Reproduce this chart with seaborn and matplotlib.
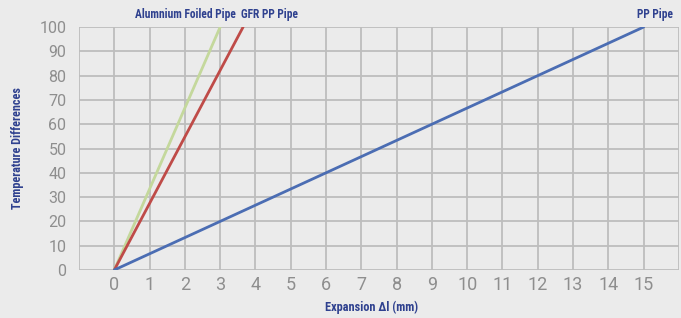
import matplotlib
matplotlib.use("Agg")
import matplotlib.pyplot as plt
import seaborn as sns
import pandas as pd

# expansion (mm) at temperature difference 0 and 100
pipes = ["Alumnium Foiled Pipe", "GFR PP Pipe", "PP Pipe"]
expansion_end = [3.0, 3.65, 15.0]
temp_diff = [0, 100]
colors = ["#C4D89C", "#BF4B48", "#4B6DB3"]
x_ticks = list(range(0, 16))
y_ticks = list(range(0, 101, 10))

rows = []
for name, end in zip(pipes, expansion_end):
    rows.append({"pipe": name, "dl": 0, "dT": temp_diff[0]})
    rows.append({"pipe": name, "dl": end, "dT": temp_diff[1]})
df = pd.DataFrame(rows)

sns.set_style("white")
plt.rcParams["font.family"] = ["DejaVu Sans"]
bg = "#EBEBEB"
label_color = "#2F418F"
cond = dict(family=["Roboto Condensed", "Roboto", "DejaVu Sans"],
            fontstretch="condensed", fontweight="bold")

fig = plt.figure(figsize=(6.81, 3.18), dpi=100, facecolor=bg)
ax = fig.add_axes([0.116, 0.151, 0.881, 0.764])
ax.set_facecolor(bg)

sns.lineplot(data=df, x="dl", y="dT", hue="pipe", palette=colors,
             hue_order=pipes, linewidth=2, legend=False, ax=ax, zorder=3)

ax.set_xlim(-1, 16)
ax.set_ylim(0, 100)
ax.set_xticks(range(-1, 17))
ax.set_xticklabels([""] + [str(t) for t in x_ticks] + [""])
ax.set_yticks(y_ticks)
ax.set_yticklabels([str(t) for t in y_ticks])
ax.grid(True, color="#BDBDBD", linewidth=1.3)
ax.tick_params(axis="x", length=0, labelsize=13, labelcolor="#8E8E8E", pad=4)
ax.tick_params(axis="y", length=0, labelsize=11.5, labelcolor="#8E8E8E", pad=9)
for lbl in ax.get_xticklabels() + ax.get_yticklabels():
    lbl.set_family(["Roboto", "DejaVu Sans"])
for s in ax.spines.values():
    s.set_visible(False)

ax.set_xlabel("Expansion Δl (mm)", fontsize=8.8, color=label_color, **cond)
ax.set_ylabel("Temperature Differences", fontsize=8.7, color=label_color, **cond)
ax.xaxis.set_label_coords(0.488, -0.128)
ax.yaxis.set_label_coords(-0.092, 0.5)

# label offsets (points) from each line's top end
offsets = [(11, 9), (-1.5, 9), (8, 9)]
aligns = ["right", "left", "center"]
for name, end, off, ha in zip(pipes, expansion_end, offsets, aligns):
    ax.annotate(name, xy=(end, temp_diff[1]), xytext=off,
                textcoords="offset points", ha=ha, va="center",
                fontsize=8.3, color=label_color, annotation_clip=False, **cond)

fig.savefig("out.png", dpi=100, facecolor=bg)
